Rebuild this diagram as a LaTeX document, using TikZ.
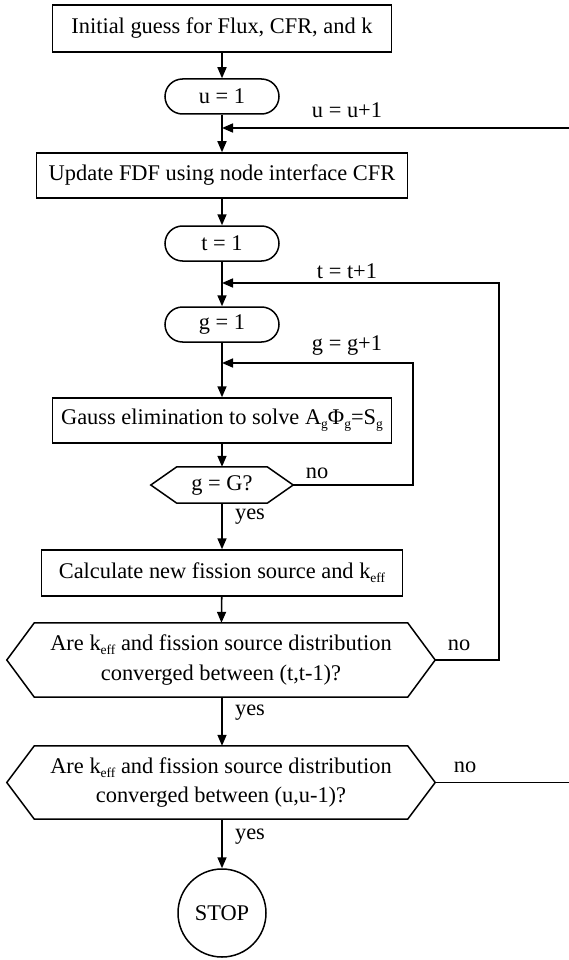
\documentclass[tikz,border=0pt]{standalone}
\usepackage{fontspec}
\setmainfont{Liberation Serif}
\usetikzlibrary{arrows.meta,calc}
% lowered small text for subscripts (k_eff, A_g ...)
\newcommand{\lowtxt}[1]{\raisebox{-0.4ex}{\fontsize{13.5}{14}\selectfont #1}}
\tikzset{
  flow/.style={line width=1.6pt, -{Triangle[length=11pt,width=9pt]}},
  plain/.style={line width=1.6pt},
  procbox/.style={draw, line width=1.5pt, inner sep=0pt, align=center},
  termbox/.style={draw, line width=1.5pt, inner sep=0pt, rounded corners=17.5pt,
                  minimum width=114pt, minimum height=35pt},
  hexcore/.style={inner sep=0pt, align=center},
  lbl/.style={inner sep=0pt},
  hexpath/.style={line width=1.5pt}
}
\newcommand{\hexagonal}[2]{% node name, chamfer depth
  \draw[hexpath] (#1.west) -- ([xshift=#2]#1.north west) -- ([xshift=-#2]#1.north east)
    -- (#1.east) -- ([xshift=-#2]#1.south east) -- ([xshift=#2]#1.south west) -- cycle;}
\begin{document}
\begin{tikzpicture}[x=1pt,y=-1pt,font=\fontsize{22.4}{29.5}\selectfont]
\useasboundingbox (0,0) rectangle (569,960);

% process steps
\node[procbox, minimum width=339pt, minimum height=47pt] (init) at (222,28.5) {Initial guess for Flux, CFR, and k};
\node[termbox] (u1) at (222,96.5) {u = 1};
\node[procbox, minimum width=371pt, minimum height=45pt] (fdf) at (222,175.5) {Update FDF using node interface CFR};
\node[termbox] (t1) at (222,243.5) {t = 1};
\node[termbox] (g1) at (222,324.5) {g = 1};
\node[procbox, minimum width=339pt, minimum height=45pt] (gauss) at (222,420.5)
  {Gauss elimination to solve A\lowtxt{g}Φ\lowtxt{g}=S\lowtxt{g}};
\node[hexcore, minimum width=142pt, minimum height=36pt] (gG) at (222,485) {g = G?};
\hexagonal{gG}{26pt}
\node[procbox, minimum width=361pt, minimum height=46pt] (fiss) at (222,573)
  {Calculate new fission source and k\lowtxt{eff}};
\node[hexcore, minimum width=428pt, minimum height=74pt] (convT) at (221,660)
  {Are k\lowtxt{eff} and fission source distribution\\converged between (t,t-1)?};
\hexagonal{convT}{27.5pt}
\node[hexcore, minimum width=428pt, minimum height=73pt] (convU) at (221,782.5)
  {Are k\lowtxt{eff} and fission source distribution\\converged between (u,u-1)?};
\hexagonal{convU}{27.5pt}
\node[draw, circle, line width=1.5pt, minimum size=88pt, inner sep=0pt] (stop) at (222,913) {STOP};

% junction points on the main line
\coordinate (ju) at (222,128);
\coordinate (jt) at (222,283);
\coordinate (jg) at (222,363);
\coordinate (uout) at (571,782.5);
\coordinate (uin) at (571,128);

% main flow
\draw[flow] (init) -- (u1);
\draw[plain] (u1) -- (ju);
\draw[flow] (ju) -- (fdf);
\draw[flow] (fdf) -- (t1);
\draw[plain] (t1) -- (jt);
\draw[flow] (jt) -- (g1);
\draw[plain] (g1) -- (jg);
\draw[flow] (jg) -- (gauss);
\draw[flow] (gauss) -- (gG);
\draw[flow] (gG) -- (fiss);
\draw[flow] (fiss) -- (convT);
\draw[flow] (convT.south -| stop) -- (convU.north -| stop);
\draw[flow] (convU.south -| stop) -- (stop);

% feedback loops
\draw[flow] (gG.east) -- (413,485) -- (413,363) -- (jg);
\draw[flow] (convT.east) -- (499,660) -- (499,283) -- (jt);
\draw[plain] (convU.east) -- (uout);
\draw[flow] (uin) -- (ju);

% loop labels
\node[lbl] at (347,110) {u = u+1};
\node[lbl] at (347,271) {t = t+1};
\node[lbl] at (347,346) {g = g+1};
\node[lbl] at (317,473) {no};
\node[lbl] at (459,645) {no};
\node[lbl] at (465,767) {no};
\node[lbl] at (250,517) {yes};
\node[lbl] at (250,713) {yes};
\node[lbl] at (250,837) {yes};
\end{tikzpicture}
\end{document}
